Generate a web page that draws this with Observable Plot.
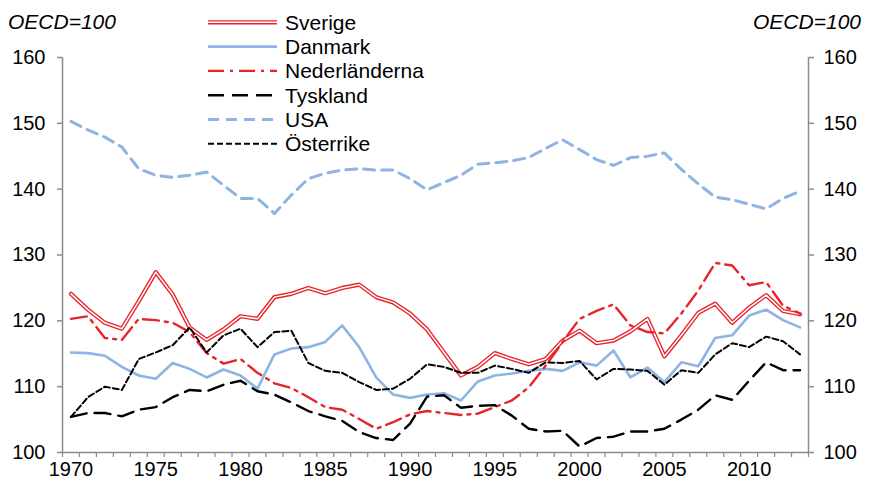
<!DOCTYPE html>
<html><head><meta charset="utf-8">
<script src="https://cdn.jsdelivr.net/npm/d3@7"></script>
<script src="https://cdn.jsdelivr.net/npm/@observablehq/plot@0.6"></script>
<style>
body{margin:0;background:#fff;}
#wrap{position:relative;width:871px;height:488px;font-family:"Liberation Sans",Arial,sans-serif;}
#wrap svg{display:block;}
#over{position:absolute;left:0;top:0;pointer-events:none;}
</style></head><body>
<div id="wrap"></div>
<script>
// ---- data ----
const years = [1970,1971,1972,1973,1974,1975,1976,1977,1978,1979,1980,1981,1982,1983,1984,1985,1986,1987,1988,1989,1990,1991,1992,1993,1994,1995,1996,1997,1998,1999,2000,2001,2002,2003,2004,2005,2006,2007,2008,2009,2010,2011,2012,2013];
const sverige = [124.1,121.7,119.7,118.8,123.0,127.4,124.0,119.0,117.1,118.7,120.7,120.3,123.6,124.1,125.0,124.2,125.0,125.5,123.6,122.8,121.1,118.7,115.2,111.7,113.0,115.1,114.2,113.4,114.2,117.0,118.5,116.6,117.0,118.4,120.3,114.6,117.8,121.2,122.6,119.7,122.0,123.9,121.5,121.0];
const danmark = [115.2,115.1,114.7,113.0,111.7,111.2,113.6,112.7,111.4,112.6,111.7,109.7,114.9,115.8,116.0,116.8,119.3,116.0,111.4,108.8,108.3,108.8,109.0,107.9,110.8,111.7,112.0,112.4,112.7,112.4,113.7,113.2,115.5,111.4,112.9,110.7,113.7,113.1,117.4,117.8,120.8,121.7,120.1,119.0];
const nederlanderna = [120.3,120.7,117.4,117.1,120.3,120.1,119.7,118.3,115.1,113.5,114.2,112.1,110.5,109.8,108.4,106.9,106.5,105.1,103.6,104.6,105.8,106.3,106.0,105.7,105.9,106.9,107.9,109.9,113.2,116.8,120.3,121.5,122.5,119.3,118.3,118.1,121.1,124.6,128.8,128.4,125.4,125.9,122.3,121.1];
const tyskland = [105.4,106.0,106.0,105.5,106.5,106.9,108.4,109.5,109.3,110.3,110.9,109.3,108.8,107.6,106.3,105.5,104.8,103.1,102.2,101.9,104.4,108.5,108.7,106.8,107.1,107.2,105.6,103.6,103.2,103.3,100.9,102.2,102.4,103.2,103.2,103.6,105.0,106.5,108.7,108.0,110.9,113.7,112.5,112.5];
const usa = [150.3,149.0,147.9,146.4,143.1,142.1,141.8,142.1,142.6,140.6,138.6,138.6,136.3,139.1,141.6,142.4,142.9,143.1,142.9,142.9,141.6,139.9,141.0,142.1,143.8,144.0,144.3,144.8,146.2,147.5,146.0,144.5,143.6,144.8,145.0,145.5,143.0,140.8,138.8,138.4,137.7,137.0,138.6,139.7];
const osterrike = [105.4,108.4,110.0,109.5,114.2,115.2,116.3,119.0,115.2,117.8,118.8,116.0,118.3,118.5,113.6,112.4,112.1,110.7,109.5,109.7,111.2,113.4,113.0,112.1,112.1,113.2,112.7,112.1,113.7,113.6,113.9,111.1,112.7,112.6,112.4,110.3,112.5,112.1,114.9,116.6,116.0,117.6,116.9,114.9];
const seriesNames = ["Sverige","Danmark","Nederländerna","Tyskland","USA","Österrike"];
const seriesValues = [sverige, danmark, nederlanderna, tyskland, usa, osterrike];
const yTicks = [100,110,120,130,140,150,160];
const xLabelTicks = [1970,1975,1980,1985,1990,1995,2000,2005,2010];
const unitLabel = "OECD=100";

// ---- styles ----
const RED = "#e6242a", BLUE = "#8db4e2", GRAY = "#8c8c8c";
const styles = {
  "Sverige":       {double:true, stroke:RED, strokeWidth:4.2},
  "Danmark":       {stroke:BLUE, strokeWidth:2.6},
  "Nederländerna": {stroke:RED, strokeWidth:2.4, dash:"16,6,3,6"},
  "Tyskland":      {stroke:"#000", strokeWidth:2.4, dash:"16,8"},
  "USA":           {stroke:BLUE, strokeWidth:3, dash:"11,7"},
  "Österrike":     {stroke:"#000", strokeWidth:2, dash:"6,3"}
};

const rows = seriesNames.flatMap((name, i) => years.map((year, j) => ({name, year, value: seriesValues[i][j]})));
const xDomain = [years[0] - 0.5, years[years.length - 1] + 0.5];
const catEdges = years.map(y => y - 0.5).concat([years[years.length - 1] + 0.5]);

const lineMarks = [];
for (const name of seriesNames) {
  const s = styles[name];
  const d = rows.filter(r => r.name === name);
  lineMarks.push(Plot.lineY(d, {x:"year", y:"value", stroke:s.stroke, strokeWidth:s.strokeWidth, strokeDasharray:s.dash, strokeLinejoin:"round"}));
  if (s.double) lineMarks.push(Plot.lineY(d, {x:"year", y:"value", stroke:"#fff", strokeWidth:1.5, strokeLinejoin:"round"}));
}

const chart = Plot.plot({
  width: 871, height: 488,
  marginLeft: 62, marginRight: 63, marginTop: 57, marginBottom: 36,
  x: {domain: xDomain},
  y: {domain: [yTicks[0], yTicks[yTicks.length - 1]]},
  style: {fontFamily: "'Liberation Sans', Arial, sans-serif", fontSize: "20px", background: "#fff", color: "#000"},
  marks: [
    ...lineMarks,
    Plot.ruleX([xDomain[0]], {stroke: GRAY, strokeWidth: 1.5}),
    Plot.ruleX([xDomain[1]], {stroke: GRAY, strokeWidth: 1.5}),
    Plot.ruleY([yTicks[0]], {stroke: GRAY, strokeWidth: 1.5}),
    Plot.axisY({anchor: "left", ticks: yTicks, tickSize: 5, tickPadding: 12, stroke: GRAY, strokeWidth: 1.5, fontSize: 20, label: null}),
    Plot.axisY({anchor: "right", ticks: yTicks, tickSize: 5, tickPadding: 10, stroke: GRAY, strokeWidth: 1.5, fontSize: 20, label: null}),
    Plot.axisX({ticks: catEdges, tickSize: 5, tickFormat: () => "", stroke: GRAY, strokeWidth: 1.2, label: null}),
    Plot.axisX({ticks: xLabelTicks, tickSize: 0, tickPadding: 9, tickFormat: "d", fontSize: 20, label: null})
  ]
});
const wrap = document.getElementById("wrap");
wrap.appendChild(chart);

// ---- overlay: unit labels and legend ----
const over = d3.select(wrap).append("svg").attr("id", "over").attr("width", 871).attr("height", 488)
  .style("font-family", "'Liberation Sans', Arial, sans-serif").style("font-size", "21px");
over.append("text").attr("x", 8).attr("y", 29).attr("font-style", "italic").text(unitLabel);
over.append("text").attr("x", 861).attr("y", 29).attr("text-anchor", "end").attr("font-style", "italic").text(unitLabel);
seriesNames.forEach((name, i) => {
  const s = styles[name];
  const y = 22.3 + i * 24.3;
  over.append("line").attr("x1", 208).attr("x2", 277).attr("y1", y).attr("y2", y)
    .attr("stroke", s.stroke).attr("stroke-width", s.strokeWidth).attr("stroke-dasharray", s.dash || null);
  if (s.double) over.append("line").attr("x1", 208).attr("x2", 277).attr("y1", y).attr("y2", y).attr("stroke", "#fff").attr("stroke-width", 1.5);
  over.append("text").attr("x", 285).attr("y", y).attr("dy", "0.35em").text(name);
});
</script>
</body></html>
